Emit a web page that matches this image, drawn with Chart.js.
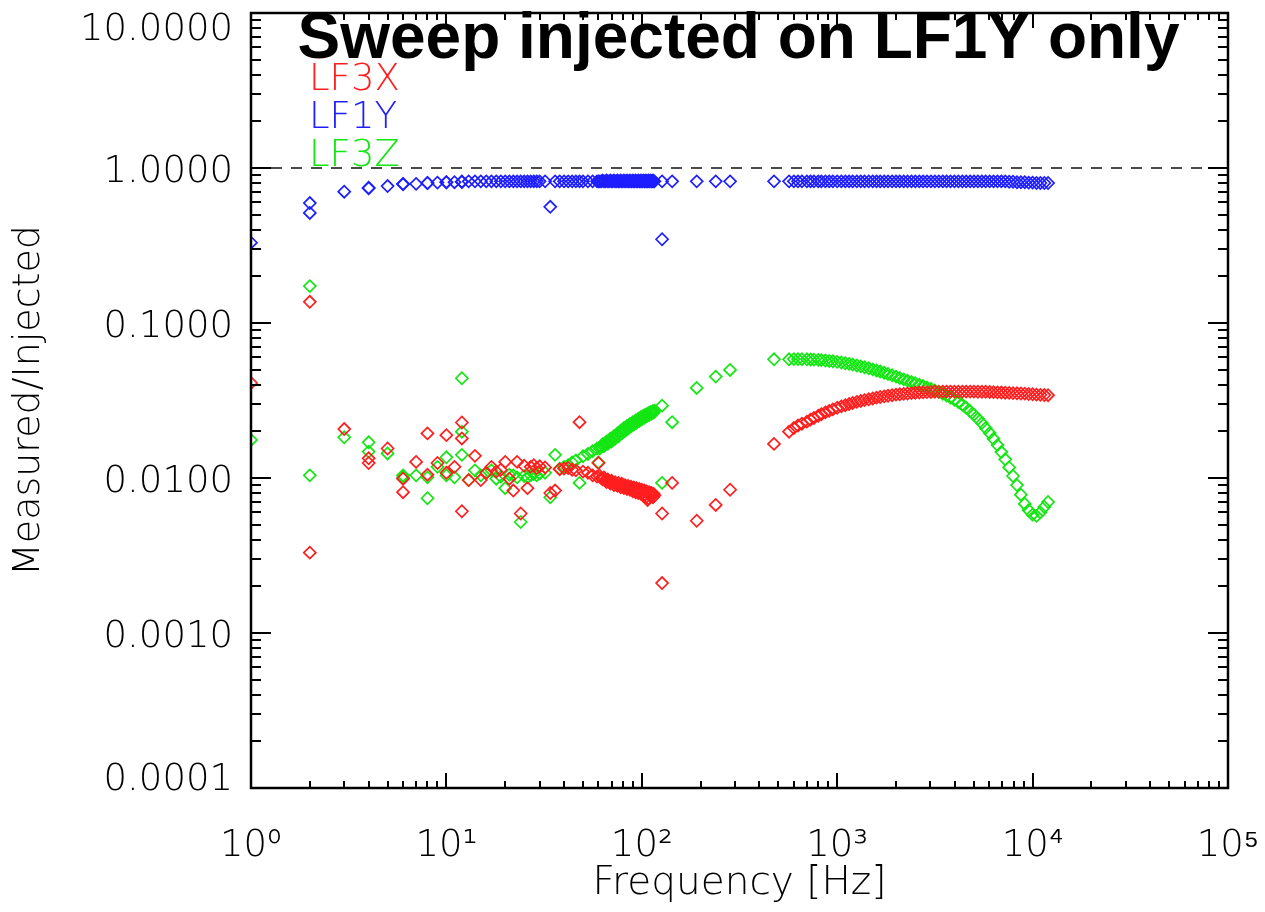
<!DOCTYPE html>
<html><head><meta charset="utf-8">
<script src="https://cdn.jsdelivr.net/npm/chart.js@4/dist/chart.umd.min.js"></script>
<style>html,body{margin:0;padding:0;background:#fff;}canvas{display:block;}</style>
</head><body>
<canvas id="c" width="1265" height="912"></canvas>
<script>
// ---------- data ----------
const freqHz = [
  1, 2, 2, 3, 4, 4, 5, 6, 6, 7, 8, 8, 9, 10, 10, 11, 12, 12, 12, 13,
  14, 15, 16, 17, 18, 19, 20, 21, 22, 23, 24, 25, 26, 27, 28, 29, 30, 32, 34, 36,
  38, 40, 42, 44, 46, 48, 50, 53, 56, 59, 60, 62, 65, 68, 71, 74, 77, 80, 83, 86,
  89, 92, 95, 98, 101, 104, 107, 110, 113, 116, 127, 127, 143, 191, 239, 283, 475, 567,
  600, 630, 660, 700, 730, 760, 800, 830, 870, 910, 950, 1000, 1050, 1100, 1150, 1200,
  1260, 1320, 1380, 1450, 1520, 1590, 1660, 1740, 1820, 1910, 2000, 2090, 2190, 2290,
  2400, 2510, 2630, 2750, 2880, 3020, 3160, 3310, 3470, 3630, 3800, 3980, 4170, 4370,
  4570, 4790, 5010, 5250, 5500, 5750, 6030, 6310, 6610, 6920, 7240, 7590, 7940, 8320,
  8710, 9120, 9550, 10000, 10470, 10960, 11480, 12000,
  61, 63, 64, 66, 67, 69, 70, 72, 73, 75, 76, 78, 79, 81, 82, 84, 85, 87, 88, 90,
  91, 93, 94, 96, 97, 99, 100, 102, 103, 105, 106, 108, 109, 111, 112, 114, 115
];
const lf3x = [
  0.041, 0.137, 0.0033, 0.0207, 0.0134, 0.0125, 0.0155, 0.0099, 0.0081, 0.0127, 0.0194, 0.0105, 0.0125, 0.0189, 0.0108, 0.0118, 0.0228, 0.0180, 0.0061, 0.0097,
  0.0139, 0.0097, 0.0108, 0.0118, 0.0110, 0.0113, 0.0127, 0.0099, 0.0083, 0.0127, 0.0059, 0.0120, 0.0086, 0.0118, 0.0121, 0.0116, 0.0119, 0.0117, 0.0080, 0.0083,
  0.0114, 0.0115, 0.0116, 0.0113, 0.0112, 0.0229, 0.0110, 0.0108, 0.0104, 0.0102, 0.0125, 0.0100, 0.0097, 0.0095, 0.0093, 0.0091, 0.0090, 0.0089, 0.0088, 0.0087,
  0.0086, 0.0085, 0.0084, 0.0083, 0.0081, 0.0078, 0.0072, 0.0080, 0.0079, 0.0077, 0.0059, 0.0021, 0.0093, 0.0053, 0.0067, 0.0084, 0.0166, 0.0199,
  0.0210, 0.0218, 0.0224, 0.0231, 0.0238, 0.0244, 0.0252, 0.0258, 0.0265, 0.0271, 0.0277, 0.0284, 0.0290, 0.0295, 0.0300, 0.0305,
  0.0310, 0.0314, 0.0318, 0.0322, 0.0326, 0.0330, 0.0333, 0.0336, 0.0339, 0.0342, 0.0345, 0.0347, 0.0349, 0.0351,
  0.0353, 0.0355, 0.0356, 0.0357, 0.0358, 0.0359, 0.0360, 0.0360, 0.0361, 0.0361, 0.0361, 0.0361, 0.0361, 0.0361,
  0.0361, 0.0361, 0.0361, 0.0360, 0.0360, 0.0360, 0.0359, 0.0358, 0.0357, 0.0356, 0.0355, 0.0354, 0.0353, 0.0352,
  0.0351, 0.0350, 0.0348, 0.0347, 0.0345, 0.0344, 0.0343, 0.0342,
  0.0103, 0.0098, 0.0101, 0.0094, 0.0098, 0.0092, 0.0096, 0.0090, 0.0094, 0.0089, 0.0093, 0.0087, 0.0092, 0.0086, 0.0090, 0.0085, 0.0089, 0.0084, 0.0088, 0.0082,
  0.0087, 0.0081, 0.0086, 0.0080, 0.0085, 0.0079, 0.0084, 0.0077, 0.0083, 0.0075, 0.0082, 0.0074, 0.0081, 0.0076, 0.0080, 0.0075, 0.0079
];
const lf1y = [
  0.33, 0.594, 0.513, 0.703, 0.74, 0.745, 0.765, 0.785, 0.79, 0.79, 0.80, 0.80, 0.805, 0.81, 0.81, 0.81, 0.815, 0.815, 0.815, 0.82,
  0.82, 0.82, 0.82, 0.82, 0.82, 0.82, 0.82, 0.82, 0.82, 0.82, 0.82, 0.82, 0.82, 0.82, 0.82, 0.82, 0.82, 0.82, 0.562, 0.82,
  0.82, 0.82, 0.82, 0.82, 0.82, 0.82, 0.82, 0.82, 0.82, 0.82, 0.82, 0.82, 0.82, 0.82, 0.82, 0.82, 0.82, 0.82, 0.82, 0.82,
  0.82, 0.82, 0.82, 0.82, 0.82, 0.82, 0.82, 0.82, 0.82, 0.82, 0.82, 0.347, 0.82, 0.82, 0.82, 0.82, 0.82, 0.82,
  0.82, 0.82, 0.82, 0.82, 0.82, 0.82, 0.82, 0.82, 0.82, 0.82, 0.82, 0.82, 0.82, 0.82, 0.82, 0.82,
  0.82, 0.82, 0.82, 0.82, 0.82, 0.82, 0.82, 0.82, 0.82, 0.82, 0.82, 0.82, 0.82, 0.82,
  0.82, 0.82, 0.82, 0.82, 0.82, 0.82, 0.82, 0.82, 0.82, 0.82, 0.82, 0.82, 0.82, 0.82,
  0.82, 0.82, 0.82, 0.82, 0.82, 0.82, 0.82, 0.82, 0.82, 0.82, 0.82, 0.815, 0.815, 0.81,
  0.81, 0.81, 0.805, 0.805, 0.80, 0.80, 0.80, 0.80,
  0.82, 0.83, 0.82, 0.83, 0.82, 0.83, 0.82, 0.83, 0.82, 0.83, 0.82, 0.83, 0.82, 0.83, 0.82, 0.83, 0.82, 0.83, 0.82, 0.83,
  0.82, 0.83, 0.82, 0.83, 0.82, 0.83, 0.82, 0.83, 0.82, 0.83, 0.82, 0.83, 0.82, 0.83, 0.82, 0.83, 0.82
];
const lf3z = [
  0.0176, 0.173, 0.0104, 0.0183, 0.0170, 0.0148, 0.0144, 0.0104, 0.0101, 0.0104, 0.0101, 0.0074, 0.0118, 0.0136, 0.0104, 0.0101, 0.044, 0.0199, 0.0141, 0.0097,
  0.0112, 0.0104, 0.0108, 0.0112, 0.0099, 0.0102, 0.0086, 0.0105, 0.0104, 0.0101, 0.0052, 0.0103, 0.0101, 0.0104, 0.0106, 0.0104, 0.0107, 0.0108, 0.0075, 0.0141,
  0.0115, 0.0118, 0.0121, 0.0126, 0.0130, 0.0093, 0.0138, 0.0143, 0.0149, 0.0155, 0.0126, 0.0160, 0.0167, 0.0173, 0.0180, 0.0188, 0.0196, 0.0204, 0.0211, 0.0218,
  0.0224, 0.0230, 0.0236, 0.0243, 0.0249, 0.0254, 0.0259, 0.0264, 0.0268, 0.0272, 0.0293, 0.0093, 0.0229, 0.0381, 0.0451, 0.0498, 0.0583, 0.0583,
  0.0585, 0.0585, 0.0584, 0.0583, 0.0582, 0.0580, 0.0578, 0.0576, 0.0573, 0.0569, 0.0566, 0.0561, 0.0556, 0.0550, 0.0545, 0.0539,
  0.0532, 0.0525, 0.0518, 0.0510, 0.0502, 0.0494, 0.0486, 0.0478, 0.0469, 0.0460, 0.0451, 0.0442, 0.0433, 0.0425,
  0.0417, 0.0409, 0.0400, 0.0392, 0.0384, 0.0376, 0.0367, 0.0358, 0.0349, 0.0340, 0.0330, 0.0320, 0.0309, 0.0297,
  0.0284, 0.0270, 0.0256, 0.0241, 0.0226, 0.0210, 0.0195, 0.0179, 0.0163, 0.0147, 0.0132, 0.0117, 0.0103, 0.0090,
  0.0078, 0.0068, 0.0062, 0.0058, 0.0057, 0.0060, 0.0065, 0.0070,
  0.0155, 0.0165, 0.0160, 0.0172, 0.0166, 0.0179, 0.0172, 0.0186, 0.0179, 0.0194, 0.0186, 0.0202, 0.0194, 0.0210, 0.0201, 0.0217, 0.0208, 0.0223, 0.0215, 0.0229,
  0.0221, 0.0235, 0.0227, 0.0241, 0.0233, 0.0247, 0.0239, 0.0252, 0.0245, 0.0257, 0.0250, 0.0262, 0.0255, 0.0266, 0.0260, 0.0270, 0.0264
];
const refLineX = [1, 100000];
const refLineY = [1, 1];

const seriesNames = ['LF3X', 'LF1Y', 'LF3Z'];
const seriesColors = ['#ff1e1e', '#1e1eff', '#14e614'];
const xTickValues = [1, 10, 100, 1000, 10000, 100000];
const xTickLabels = ['10\u2070', '10\u00b9', '10\u00b2', '10\u00b3', '10\u2074', '10\u2075'];
const yTickValues = [0.0001, 0.001, 0.01, 0.1, 1, 10];
const yTickLabels = [['0.0001', ''], '0.0010', '0.0100', '0.1000', '1.0000', ['', '10.0000']];
const titleText = 'Sweep injected on LF1Y only';
const xTitleText = 'Frequency [Hz]';
const yTitleText = 'Measured/Injected';

const THIN = '"DejaVu Sans", "Liberation Sans", sans-serif';

function pts(vals) { return freqHz.map((f, i) => ({ x: f, y: vals[i] })); }

const framePlugin = {
  id: 'frame',
  afterDatasetsDraw(chart) {
    const { ctx, chartArea: a, scales } = chart;
    const x = scales.x, y = scales.y;
    ctx.save();
    ctx.strokeStyle = '#000';
    ctx.lineWidth = 2;
    ctx.beginPath();
    for (const d of xTickValues) {
      for (let m = 1; m <= 9; m++) {
        const v = d * m;
        if (v > x.max * 1.0001) break;
        const px = Math.round(x.getPixelForValue(v));
        const len = m === 1 ? 15 : 7;
        ctx.moveTo(px, a.bottom); ctx.lineTo(px, a.bottom - len);
        ctx.moveTo(px, a.top); ctx.lineTo(px, a.top + len);
      }
    }
    for (const d of yTickValues) {
      for (let m = 1; m <= 9; m++) {
        const v = d * m;
        if (v > y.max * 1.0001) break;
        const py = Math.round(y.getPixelForValue(v));
        const len = m === 1 ? 20 : 10;
        ctx.moveTo(a.left, py); ctx.lineTo(a.left + len, py);
        ctx.moveTo(a.right, py); ctx.lineTo(a.right - len, py);
      }
    }
    ctx.stroke();
    ctx.lineWidth = 2.5;
    ctx.strokeRect(a.left, a.top, a.right - a.left, a.bottom - a.top);
    ctx.restore();
  }
};

const textPlugin = {
  id: 'texts',
  afterDraw(chart) {
    const { ctx, chartArea: a } = chart;
    ctx.save();
    ctx.fillStyle = '#000';
    ctx.font = 'bold 64px "Liberation Sans", Arial, sans-serif';
    ctx.textAlign = 'center';
    ctx.textBaseline = 'alphabetic';
    ctx.fillText(titleText, (a.left + a.right) / 2 - 1, a.top + 45);
    ctx.font = '200 37px ' + THIN;
    ctx.textAlign = 'left';
    for (let i = 0; i < seriesNames.length; i++) {
      ctx.fillStyle = seriesColors[i];
      ctx.fillText(seriesNames[i], a.left + 58, a.top + 77 + 38 * i);
    }
    ctx.restore();
  }
};

function scatterSet(i, vals) {
  return {
    label: seriesNames[i],
    data: pts(vals),
    borderColor: seriesColors[i],
    backgroundColor: 'rgba(0,0,0,0)',
    pointStyle: 'rectRot',
    pointRadius: 6,
    pointBorderWidth: 1.7,
    clip: 0
  };
}

new Chart(document.getElementById('c'), {
  type: 'scatter',
  data: {
    datasets: [
      scatterSet(0, lf3x),
      scatterSet(1, lf1y),
      scatterSet(2, lf3z),
      {
        type: 'line',
        label: 'unity',
        data: refLineX.map((v, i) => ({ x: v, y: refLineY[i] })),
        borderColor: '#111',
        borderWidth: 1.6,
        borderDash: [11, 9],
        pointRadius: 0,
        fill: false,
        clip: 0
      }
    ]
  },
  options: {
    responsive: false,
    animation: false,
    devicePixelRatio: 1,
    layout: { padding: { top: 13, right: 37, left: 0, bottom: 0 } },
    plugins: { legend: { display: false }, tooltip: { enabled: false }, title: { display: false } },
    scales: {
      x: {
        type: 'logarithmic',
        position: 'bottom',
        min: 1,
        max: 100000,
        grid: { display: false, drawTicks: false },
        border: { display: false },
        afterBuildTicks: s => { s.ticks = xTickValues.map(v => ({ value: v })); },
        afterFit: s => { s.height = 124; s.paddingLeft = 0; s.paddingRight = 0; },
        ticks: {
          autoSkip: false, maxRotation: 0, minRotation: 0, padding: 40, color: '#000',
          font: { family: THIN, size: 37, weight: '200', lineHeight: 1 },
          callback: (v, i) => xTickLabels[i]
        },
        title: {
          display: true, text: xTitleText, color: '#000',
          font: { family: THIN, size: 39, weight: '200', lineHeight: 1 },
          padding: { top: 0, bottom: 9 }
        }
      },
      y: {
        type: 'logarithmic',
        position: 'left',
        min: 0.0001,
        max: 10,
        grid: { display: false, drawTicks: false },
        border: { display: false },
        afterBuildTicks: s => { s.ticks = yTickValues.map(v => ({ value: v })); },
        afterFit: s => { s.width = 251; s.paddingTop = 0; s.paddingBottom = 0; },
        ticks: {
          autoSkip: false, padding: 18, color: '#000', labelOffset: 4,
          font: ctx => ({ family: THIN, size: 37, weight: '200',
            lineHeight: ctx.index === 0 ? 0.62 : (ctx.index === 5 ? 0.72 : 1) }),
          callback: (v, i) => yTickLabels[i]
        },
        title: {
          display: true, text: yTitleText, color: '#000',
          font: { family: THIN, size: 38, weight: '200', lineHeight: 1 },
          padding: { top: 10, bottom: 0 }
        }
      }
    }
  },
  plugins: [framePlugin, textPlugin]
});
</script>
</body></html>
